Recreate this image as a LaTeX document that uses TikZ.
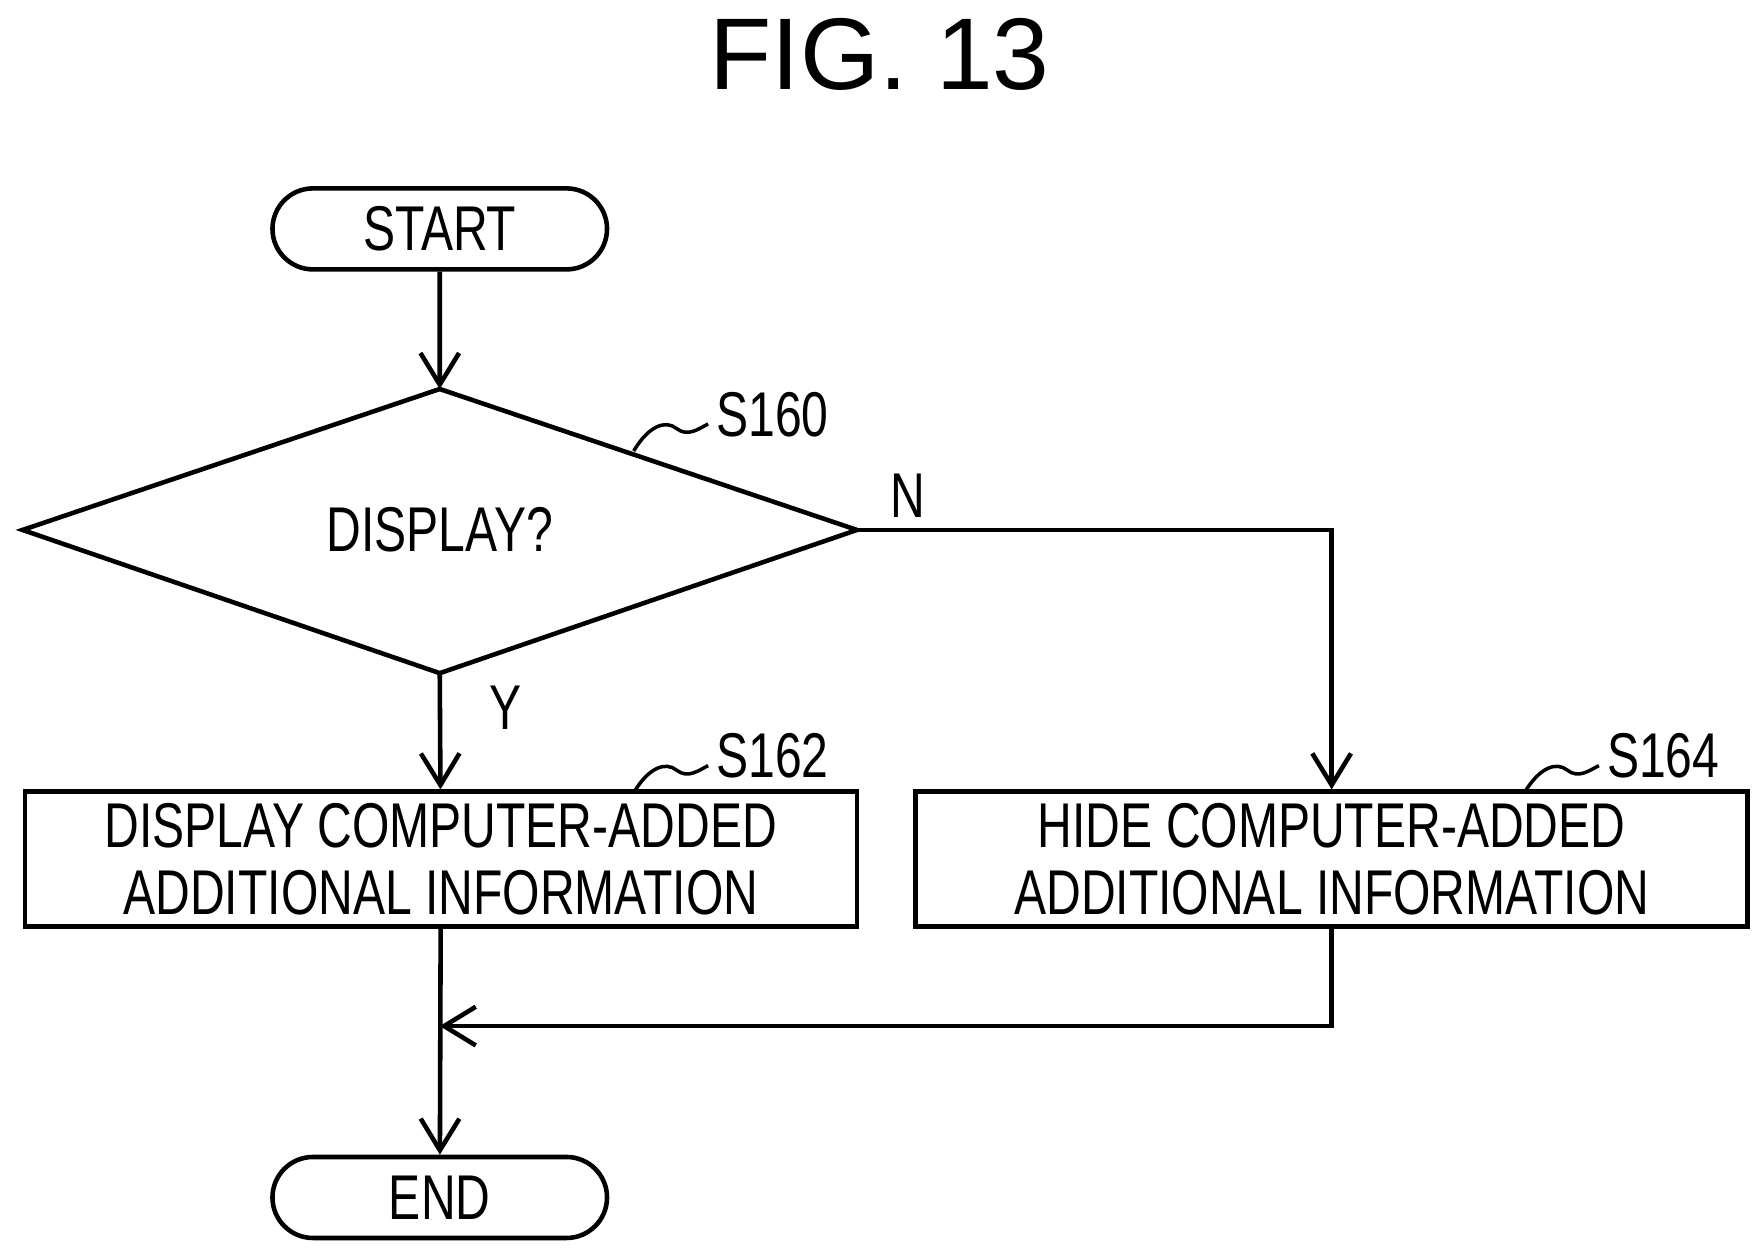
\documentclass[tikz,border=0pt]{standalone}
\usepackage{fontspec}
\setmainfont{Liberation Sans}
\usetikzlibrary{positioning,shapes.geometric,shapes.misc,arrows.meta}
\newcommand{\cond}[1]{\scalebox{0.76}[1]{#1}}
\tikzset{
  flow/.style={line width=1.3pt,-{Straight Barb[length=9pt,width=11pt,line width=1.3pt]}},
  term/.style={draw,line width=1.3pt,rounded rectangle,minimum width=3.58cm,minimum height=0.81cm,font=\fontsize{18}{21}\selectfont},
  proc/.style={draw,line width=1.3pt,minimum width=8.32cm,minimum height=1.34cm,align=center,font=\fontsize{18}{21}\selectfont},
  lbl/.style={font=\fontsize{18}{21}\selectfont}
}
\begin{document}
\begin{tikzpicture}[x=0.01128cm,y=-0.01128cm]
\useasboundingbox (0,0) rectangle (1560,1113);

\node[font=\fontsize{29}{34}\selectfont] (title) at (780,48) {FIG. 13};

\node[term] (start) at (390,203) {\cond{START}};
\draw[line width=1.3pt] (390,345) coordinate (dt) -- (760,470) coordinate (dr)
  -- (390,597) coordinate (db) -- (20,470) coordinate (dl) -- cycle;
\node[lbl] (dec) at (390,470) {\cond{DISPLAY?}};

\node[proc] (s162) at (391,762) {\cond{DISPLAY COMPUTER-ADDED}\\[-2pt]\cond{ADDITIONAL INFORMATION}};
\node[proc] (s164) at (1181,762) {\cond{HIDE COMPUTER-ADDED}\\[-2pt]\cond{ADDITIONAL INFORMATION}};
\node[term] (end) at (390,1062) {\cond{END}};

% step labels
\node[lbl] (l160) at (685,368) {\cond{S160}};
\node[lbl] (l162) at (685,670) {\cond{S162}};
\node[lbl] (l164) at (1475,670) {\cond{S164}};
\draw[line width=1pt] (562,400) .. controls (575,378) and (590,372) .. (600,380)
  .. controls (610,388) and (620,380) .. (628,376);
\draw[line width=1pt] (562,703) .. controls (575,681) and (590,675) .. (600,683)
  .. controls (610,691) and (620,683) .. (628,679);
\draw[line width=1pt] (1352,703) .. controls (1365,681) and (1380,675) .. (1390,683)
  .. controls (1400,691) and (1410,683) .. (1418,679);

\node[lbl] (yes) at (448,628) {\cond{Y}};
\node[lbl] (no) at (805,440) {\cond{N}};

\draw[flow] (start) -- (dt);
\draw[flow] (db) -- (s162);
\draw[flow] (dr) -| (s164);
\coordinate (merge) at (390,910);
\draw[flow] (s164) |- (merge);
\draw[flow] (s162) -- (end);
\end{tikzpicture}
\end{document}
